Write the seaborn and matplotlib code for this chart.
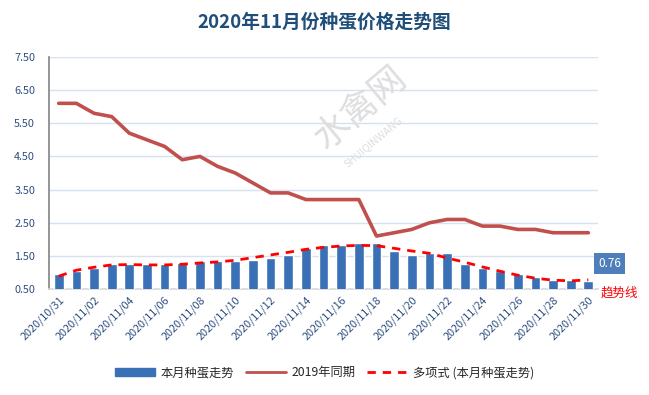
import matplotlib.pyplot as plt
import numpy as np
import pandas as pd
import seaborn as sns
from matplotlib.patches import Patch
from matplotlib.lines import Line2D

# 日期 2020/10/31 ~ 2020/11/30
dates = ["2020/10/31"] + ["2020/11/%02d" % d for d in range(1, 31)]

# 本月种蛋走势
price_2020 = [0.95, 1.04, 1.14, 1.25, 1.25, 1.25, 1.25, 1.29, 1.34, 1.34,
              1.34, 1.38, 1.44, 1.53, 1.73, 1.83, 1.83, 1.89, 1.89, 1.65,
              1.53, 1.59, 1.59, 1.26, 1.14, 1.05, 0.96, 0.87, 0.78, 0.78,
              0.76]

# 2019年同期
price_2019 = [6.10, 6.10, 5.80, 5.70, 5.20, 5.00, 4.80, 4.40, 4.50, 4.20,
              4.00, 3.70, 3.40, 3.40, 3.20, 3.20, 3.20, 3.20, 2.10, 2.20,
              2.30, 2.50, 2.60, 2.60, 2.40, 2.40, 2.30, 2.30, 2.20, 2.20,
              2.20]

# 多项式趋势线
trend = [0.89, 1.07, 1.16, 1.23, 1.24, 1.23, 1.23, 1.25, 1.29, 1.32,
         1.37, 1.45, 1.53, 1.61, 1.70, 1.76, 1.80, 1.82, 1.81, 1.73,
         1.65, 1.58, 1.44, 1.31, 1.17, 1.04, 0.92, 0.83, 0.77, 0.75,
         0.78]

yticks = [0.5, 1.5, 2.5, 3.5, 4.5, 5.5, 6.5, 7.5]

df = pd.DataFrame({"date": dates, "idx": range(len(dates)),
                   "p2020": price_2020, "p2019": price_2019, "trend": trend})

sns.set_theme(style="white")
plt.rcParams['font.family'] = ['Noto Sans CJK SC', 'DejaVu Sans']

fig = plt.figure(figsize=(6.49, 3.95), dpi=100)
ax = fig.add_axes([0.0755, 0.268, 0.846, 0.588])

# 水印
fig.text(0.555, 0.725, "水禽网", rotation=40, fontsize=26, color="#DEDEDE",
         ha="center", va="center", zorder=0)
fig.text(0.575, 0.64, "SHUIQINWANG", rotation=40, fontsize=7.5, color="#DEDEDE",
         ha="center", va="center", zorder=0)

blue = "#3A70B5"
sns.barplot(data=df, x="idx", y="p2020", color=blue, width=0.55,
            saturation=1, ax=ax, zorder=3)
sns.lineplot(data=df, x="idx", y="p2019", color="#C0504D", linewidth=2.6,
             ax=ax, zorder=4)
ax.plot(df["idx"], df["trend"], color="#FF0000", linewidth=2.0,
        dashes=(3, 2.5), zorder=5)

ax.set_ylim(0.5, 7.5)
ax.set_xlim(-0.55, len(dates) - 0.45)
ax.set_yticks(yticks)
ax.set_yticklabels(["%.2f" % v for v in yticks])
ax.set_xticks(range(0, len(dates), 2))
ax.set_xticklabels(dates[::2], rotation=45, ha="right", rotation_mode="anchor")
ax.tick_params(axis="both", colors="#2F4F7F", labelsize=7.8, length=0, pad=4)
ax.tick_params(axis="y", pad=10)
ax.set_xlabel("")
ax.set_ylabel("")
ax.grid(axis="y", color="#D6E2F0", linewidth=1, zorder=0)
ax.patch.set_alpha(0)

for s in ["top", "right"]:
    ax.spines[s].set_visible(False)
ax.spines["left"].set_color("#888888")
ax.spines["bottom"].set_color("#D9D9D9")

fig.text(0.5, 0.944, "2020年11月份种蛋价格走势图", ha="center", va="center",
         fontsize=13.5, fontweight="bold", color="#1F4E79")

# 数据标签
ax.annotate("%.2f" % price_2020[-1], xy=(len(dates) - 1, price_2020[-1]),
            xytext=(7, 12), textcoords="offset points", ha="left", va="center",
            fontsize=8.5, color="white",
            bbox=dict(boxstyle="square,pad=0.35", fc="#4F7FBA", ec="none"))
fig.text(0.955, 0.258, "趋势线", color="#FF0000", fontsize=9,
         ha="center", va="center")

handles = [Patch(color=blue),
           Line2D([], [], color="#C0504D", linewidth=2),
           Line2D([], [], color="#FF0000", linewidth=2, dashes=(3, 2.5))]
labels = ["本月种蛋走势", "2019年同期", "多项式 (本月种蛋走势)"]
fig.legend(handles, labels, loc="center", bbox_to_anchor=(0.5, 0.056),
           ncol=3, frameon=False, fontsize=8.8, handlelength=3.3,
           handleheight=0.7, columnspacing=1.0, handletextpad=0.4)

fig.savefig("out.png", dpi=100)
